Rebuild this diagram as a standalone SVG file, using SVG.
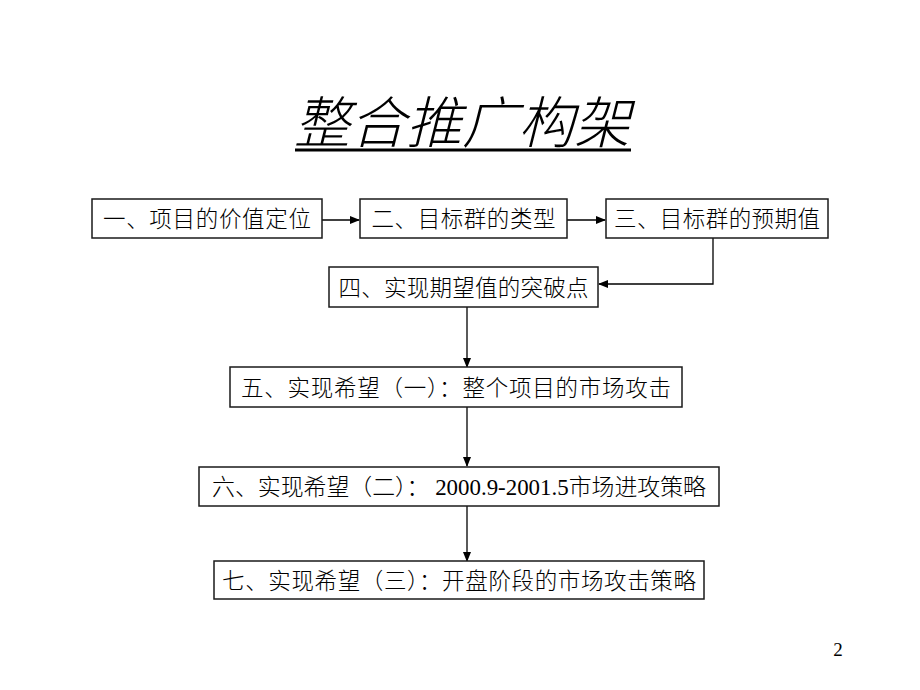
<svg xmlns="http://www.w3.org/2000/svg" width="920" height="690" viewBox="0 0 920 690">
<style>
.box{fill:#fff;stroke:#1a1a1a;stroke-width:1.5}
.t{font-family:"Liberation Serif","Noto Sans CJK SC",serif;font-size:22.5px;font-weight:300;fill:#000;text-anchor:middle}
.c{fill:none;stroke:#000;stroke-width:1.3}
</style>
<defs>
<marker id="ah" markerWidth="10" markerHeight="8" refX="9" refY="4" orient="auto" markerUnits="userSpaceOnUse">
<path d="M0,0 L10,4 L0,8 Z" fill="#000"/>
</marker>
</defs>
<rect width="920" height="690" fill="#fff"/>
<g id="title">
<text x="462" y="143" font-family="'Liberation Serif','Noto Sans CJK SC',serif" font-size="56" font-style="italic" font-weight="300" text-anchor="middle" fill="#000">整合推广构架</text>
<rect x="295" y="148.5" width="336" height="3" fill="#000"/>
</g>
<g id="connectors">
<line class="c" x1="322" y1="220" x2="359" y2="220" marker-end="url(#ah)"/>
<line class="c" x1="567" y1="220" x2="605" y2="220" marker-end="url(#ah)"/>
<polyline class="c" points="713,238 713,284 599,284" marker-end="url(#ah)"/>
<line class="c" x1="467" y1="307" x2="467" y2="367" marker-end="url(#ah)"/>
<line class="c" x1="467" y1="407" x2="467" y2="466" marker-end="url(#ah)"/>
<line class="c" x1="467" y1="506" x2="467" y2="561" marker-end="url(#ah)"/>
</g>
<g id="n1"><rect class="box" x="92" y="199" width="230" height="39"/><text class="t" x="207" y="227" textLength="208">一、项目的价值定位</text></g>
<g id="n2"><rect class="box" x="360" y="199" width="207" height="39"/><text class="t" x="463.5" y="227" textLength="184">二、目标群的类型</text></g>
<g id="n3"><rect class="box" x="606" y="199" width="222" height="39"/><text class="t" x="717" y="227" textLength="206">三、目标群的预期值</text></g>
<g id="n4"><rect class="box" x="329" y="267" width="269" height="40"/><text class="t" x="463.5" y="295.5" textLength="250">四、实现期望值的突破点</text></g>
<g id="n5"><rect class="box" x="230" y="367" width="452" height="40"/><text class="t" x="456" y="395.5" textLength="430">五、实现希望（一）：整个项目的市场攻击</text></g>
<g id="n6"><rect class="box" x="199" y="467" width="520" height="39"/><text class="t" x="459" y="495" textLength="494" lengthAdjust="spacingAndGlyphs">六、实现希望（二）： 2000.9-2001.5市场进攻策略</text></g>
<g id="n7"><rect class="box" x="214" y="561" width="490" height="38"/><text class="t" x="459" y="589" textLength="474">七、实现希望（三）：开盘阶段的市场攻击策略</text></g>
<text x="838" y="656" font-family="'Liberation Serif',serif" font-size="19" text-anchor="middle" fill="#000">2</text>
</svg>
